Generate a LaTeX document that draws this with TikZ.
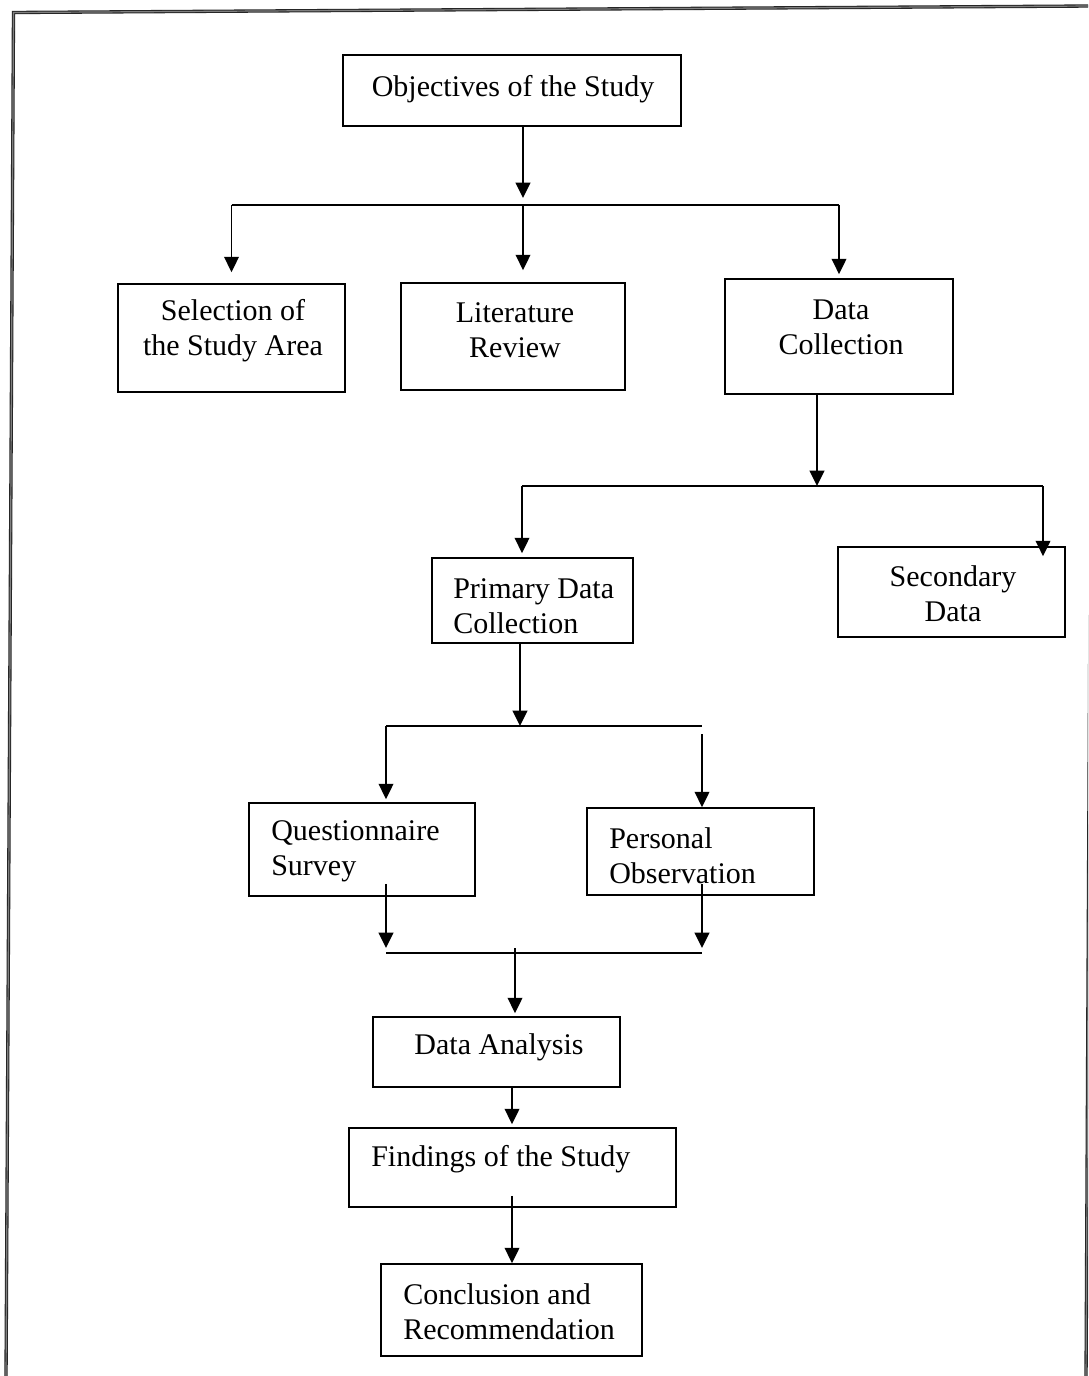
\documentclass[tikz,border=0pt]{standalone}
\usepackage{fontspec}
\setmainfont{Liberation Serif}
\usetikzlibrary{arrows.meta,fit,calc}
\begin{document}
\begin{tikzpicture}[x=0.75pt,y=-0.75pt,
  box/.style={draw, line width=1.3pt, inner sep=0pt, rectangle},
  txt/.style={inner sep=0pt, font=\fontsize{22.5}{26.25}\selectfont},
  link/.style={line width=1.35pt},
  arr/.style={link, -{Triangle[length=11.5pt,width=11pt]}},
  frame/.style={draw=black!85, line width=0.8pt, double=black!50, double distance=0.9pt}]
\useasboundingbox (0,0) rectangle (1088,1376);
\fill[white] (0,0) rectangle (1088,1376);

% page frame (slightly skewed scan of a bordered page)
\begin{scope}
  \clip (0,0) rectangle (1088,1376);
  \draw[frame] (1093,6) -- (13.5,12.5) -- (6,1380);
  \draw[frame] (1093,6) -- (1086,1380);
\end{scope}

% boxes
\node[box, fit={(343,55) (681,126)}]    (obj) {};
\node[box, fit={(118,284) (345,392)}]   (sel) {};
\node[box, fit={(401,283) (625,390)}]   (lit) {};
\node[box, fit={(725,279) (953,394)}]   (dc)  {};
\node[box, fit={(432,558) (633,643)}]   (pdc) {};
\node[box, fit={(838,547) (1065,637)}]  (sec) {};
\node[box, fit={(249,803) (475,896)}]   (qs)  {};
\node[box, fit={(587,808) (814,895)}]   (po)  {};
\node[box, fit={(373,1017) (620,1087)}] (da)  {};
\node[box, fit={(349,1128) (676,1207)}] (fs)  {};
\node[box, fit={(381,1264) (642,1356)}] (cr)  {};

% box texts
\node[txt] (obj-t) at (513,89) {Objectives of the Study};
\node[txt, align=center] (sel-t) at (233,331) {Selection of\\the Study Area};
\node[txt, align=center] (lit-t) at (515,330) {Literature\\Review};
\node[txt, align=center] (dc-t) at (841,327) {Data\\Collection};
\node[txt, align=left, anchor=west] (pdc-t) at (453,606) {Primary Data\\Collection};
\node[txt, align=center] (sec-t) at (953,594) {Secondary\\Data};
\node[txt, align=left, anchor=west] (qs-t) at (271,851) {Questionnaire\\Survey};
\node[txt, align=left, anchor=west] (po-t) at (609,856) {Personal\\Observation};
\node[txt] (da-t) at (499,1047) {Data Analysis};
\node[txt, anchor=west] (fs-t) at (371,1159) {Findings of the Study};
\node[txt, align=left, anchor=west] (cr-t) at (403,1312) {Conclusion and\\Recommendation};

% objectives -> three branches
\coordinate (j1) at (523,205);
\draw[arr] (obj.south -| j1) -- ($(j1)+(0,-7)$);
\draw[link] (j1 -| sel.north) -- (j1 -| dc.north);
\draw[arr] (j1 -| sel.north) -- ($(sel.north)+(0,-11)$);
\draw[arr] (j1) -- ($(lit.north -| j1)+(0,-12)$);
\draw[arr] (j1 -| dc.north) -- ($(dc.north)+(0,-4)$);

% data collection -> primary / secondary
\coordinate (j2) at (817,486);
\coordinate (j2l) at (522,486);
\coordinate (j2r) at (1043,486);
\draw[arr] (dc.south -| j2) -- (j2);
\draw[link] (j2l) -- (j2r);
\draw[arr] (j2l) -- ($(j2l |- pdc.north)+(0,-4)$);
\draw[arr] (j2r) -- ($(j2r |- sec.north)+(0,10)$);

% primary -> questionnaire / observation
\coordinate (j3) at (520,726);
\coordinate (j3l) at (386,726);
\coordinate (j3r) at (702,726);
\draw[arr] (pdc.south -| j3) -- (j3);
\draw[link] (j3l) -- (j3r);
\draw[arr] (j3l) -- ($(j3l |- qs.north)+(0,-3)$);
\draw[arr] ($(j3r)+(0,8)$) -- (j3r |- po.north);

% questionnaire / observation -> analysis
\coordinate (k)  at (515,953);
\coordinate (kl) at (386,953);
\coordinate (kr) at (702,953);
\draw[arr] ($(qs.south -| kl)+(0,-13)$) -- ($(kl)+(0,-5)$);
\draw[arr] ($(po.south -| kr)+(0,-12)$) -- ($(kr)+(0,-5)$);
\draw[link] (kl) -- (kr);
\draw[arr] ($(k)+(0,-5)$) -- ($(da.north -| k)+(0,-3)$);

% analysis -> findings -> conclusion
\coordinate (c5) at (512,1100);
\draw[arr] (da.south -| c5) -- ($(fs.north -| c5)+(0,-3)$);
\draw[arr] ($(fs.south -| c5)+(0,-12)$) -- (cr.north -| c5);
\end{tikzpicture}
\end{document}
